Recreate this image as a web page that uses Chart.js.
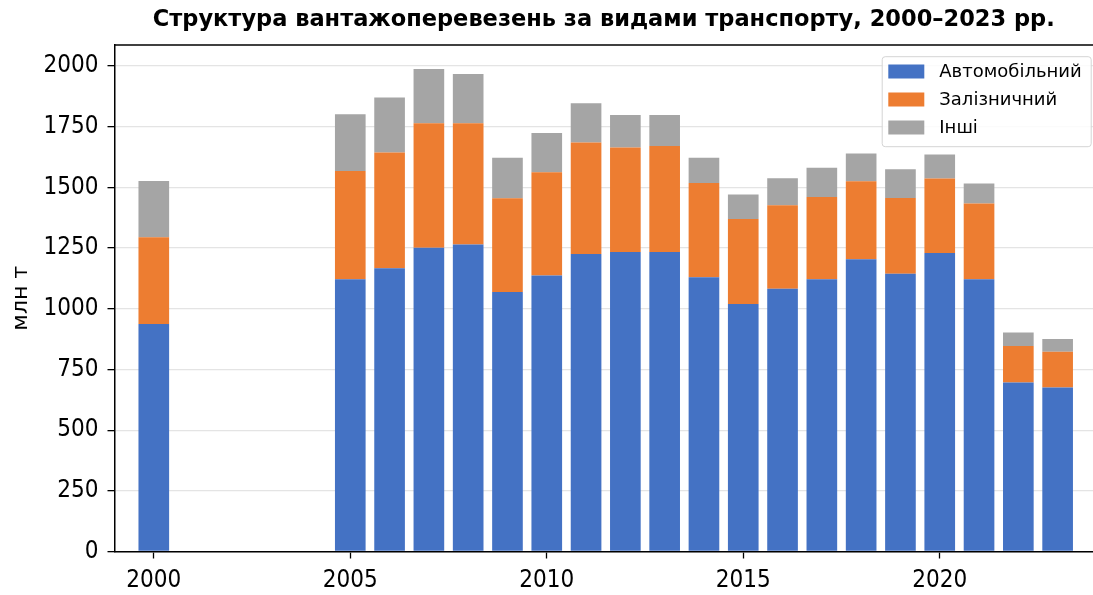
<!DOCTYPE html>
<html lang="uk">
<head>
<meta charset="utf-8">
<title>Структура вантажоперевезень</title>
<script src="https://cdn.jsdelivr.net/npm/chart.js@4.4.1/dist/chart.umd.min.js"></script>
<style>
  html, body { margin: 0; padding: 0; background: #fff; }
  #freightChart { display: block; }
</style>
</head>
<body>
<canvas id="freightChart" width="1093" height="595"></canvas>
<script>
// Data (млн т)
const years = [2000, 2005, 2006, 2007, 2008, 2009, 2010, 2011, 2012, 2013, 2014, 2015, 2016, 2017, 2018, 2019, 2020, 2021, 2022, 2023];
const roadValues = [937, 1122, 1167, 1252, 1265, 1069, 1137, 1226, 1234, 1234, 1130, 1020, 1083, 1122, 1204, 1144, 1230, 1122, 696, 676];
const railValues = [358, 446, 477, 513, 500, 387, 426, 459, 431, 437, 388, 350, 344, 339, 322, 313, 307, 312, 151, 147];
const otherValues = [232, 234, 227, 223, 203, 166, 161, 162, 134, 128, 104, 101, 111, 120, 114, 118, 99, 82, 55, 53];
const seriesLabels = ['Автомобільний', 'Залізничний', 'Інші'];
const yTicks = [0, 250, 500, 750, 1000, 1250, 1500, 1750, 2000];

const colors = ['#4472C4', '#ED7D31', '#A5A5A5'];
const condensed = '"DejaVu Sans Condensed", "DejaVu Sans", sans-serif';

function toPoints(values) {
  return values.map((v, i) => ({ x: years[i], y: v }));
}

// top spine + legend box inside the plot, like matplotlib
const framePlugin = {
  id: 'frame',
  afterDatasetsDraw(chart) {
    const { ctx, chartArea } = chart;
    ctx.save();
    ctx.strokeStyle = '#000';
    ctx.lineWidth = 1.5;
    ctx.beginPath();
    ctx.moveTo(chartArea.left, chartArea.top);
    ctx.lineTo(chartArea.right, chartArea.top);
    ctx.stroke();

    // legend
    const boxW = 209, boxH = 90;
    const bx = chartArea.right - 2.3 - boxW;
    const by = chartArea.top + 11.2;
    ctx.fillStyle = 'rgba(255,255,255,0.85)';
    ctx.strokeStyle = '#d4d4d4';
    ctx.lineWidth = 1;
    ctx.beginPath();
    ctx.roundRect(bx + 0.5, by + 0.5, boxW, boxH, 3);
    ctx.fill();
    ctx.stroke();

    ctx.font = '18px "DejaVu Sans", sans-serif';
    ctx.textBaseline = 'middle';
    ctx.textAlign = 'left';
    chart.data.datasets.forEach((ds, i) => {
      const cy = by + 15.3 + i * 28;
      ctx.fillStyle = ds.backgroundColor;
      ctx.fillRect(bx + 6.6, cy - 7, 36, 14);
      ctx.fillStyle = '#000';
      ctx.fillText(ds.label, bx + 57.6, cy + 1);
    });
    ctx.restore();
  }
};

function initializeFreightChart() {
  const ctx = document.getElementById('freightChart');
  if (!ctx) return;

  const valueSets = [roadValues, railValues, otherValues];

  new Chart(ctx, {
    type: 'bar',
    data: {
      datasets: seriesLabels.map((label, i) => ({
        label: label,
        data: toPoints(valueSets[i]),
        backgroundColor: colors[i],
        borderWidth: 0,
        barPercentage: 0.78,
        categoryPercentage: 1
      }))
    },
    options: {
      responsive: false,
      devicePixelRatio: 1,
      animation: false,
      layout: { padding: 0 },
      plugins: {
        legend: { display: false },
        tooltip: { enabled: false },
        title: {
          display: true,
          fullSize: false,
          text: 'Структура вантажоперевезень за видами транспорту, 2000–2023 рр.',
          color: '#000',
          font: { family: '"DejaVu Sans", sans-serif', size: 22.5, weight: 'bold', lineHeight: 1.2 },
          padding: { top: 7, bottom: 11 }
        }
      },
      scales: {
        x: {
          type: 'linear',
          stacked: true,
          offset: false,
          min: 1999,
          max: 2023.9,
          afterFit(scale) { scale.height = 43.5; },
          border: { display: true, color: '#000', width: 1.5 },
          grid: {
            display: true,
            offset: false,
            drawOnChartArea: false,
            drawTicks: true,
            tickLength: 7,
            tickColor: '#000',
            tickWidth: 1.3
          },
          ticks: {
            stepSize: 5,
            includeBounds: false,
            autoSkip: false,
            maxRotation: 0,
            padding: 8,
            color: '#000',
            font: { family: condensed, size: 24 },
            callback: (v) => String(v)
          }
        },
        y: {
          stacked: true,
          min: 0,
          max: 2087,
          afterFit(scale) { scale.width = 114.5; },
          afterBuildTicks(scale) { scale.ticks = yTicks.map(v => ({ value: v })); },
          border: { display: true, color: '#000', width: 1.5 },
          grid: {
            color: '#e4e4e4',
            lineWidth: 1.3,
            tickLength: 7,
            tickColor: '#000',
            tickWidth: 1.3
          },
          ticks: {
            padding: 9,
            color: '#000',
            font: { family: condensed, size: 24 },
            callback: (v) => String(v)
          },
          title: {
            display: true,
            text: 'млн т',
            color: '#000',
            font: { family: '"DejaVu Sans", sans-serif', size: 22 },
            padding: { top: 8, bottom: 0 }
          }
        }
      }
    },
    plugins: [framePlugin]
  });
}

document.addEventListener('DOMContentLoaded', () => {
  initializeFreightChart();
});
</script>
</body>
</html>
